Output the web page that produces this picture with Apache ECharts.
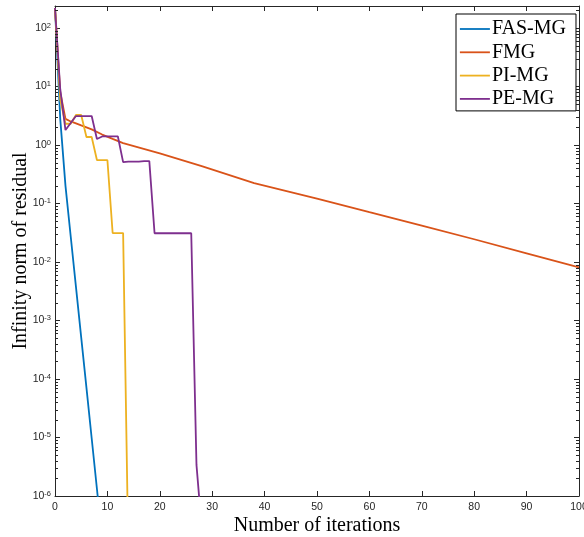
<!DOCTYPE html>
<html>
<head>
<meta charset="utf-8">
<script src="https://cdn.jsdelivr.net/npm/echarts@6/dist/echarts.min.js"></script>
<style>html,body{margin:0;padding:0;background:#fff;}#c{width:584px;height:537px;}</style>
</head>
<body>
<div id="c"></div>
<script>
// ---- data ----
const fasIter = [0, 1, 2, 3, 4, 5, 6, 7, 8, 9];
const fasVal  = [220, 2.8, 0.2, 0.0273, 0.00376, 5.15e-4, 7.1e-5, 9.7e-6, 1.33e-6, 1.8e-7];

const fmgIter = [0, 1, 2, 3, 4, 5, 7, 9, 11, 13, 20, 28, 38, 50, 60, 70, 80, 90, 100];
const fmgVal  = [220, 8, 2.8, 2.53, 2.34, 2.16, 1.85, 1.51, 1.27, 1.08, 0.72, 0.436, 0.223, 0.121, 0.071, 0.0417, 0.0245, 0.0141, 0.0081];

const piIter = [0, 1, 2, 3, 4, 5, 6, 7, 8, 9, 10, 11, 12, 13, 14];
const piVal  = [220, 6, 2.31, 2.31, 3.26, 3.26, 1.37, 1.37, 0.554, 0.554, 0.554, 0.0313, 0.0313, 0.0313, 1e-7];

const peIter = [0, 1, 2, 3, 4, 5, 6, 7, 8, 9, 10, 11, 12, 13, 14, 15, 16, 17, 18, 19, 20, 21, 22, 23, 24, 25, 26, 27, 28];
const peVal  = [220, 9, 1.8, 2.38, 3.13, 3.13, 3.13, 3.13, 1.27, 1.4, 1.4, 1.4, 1.4, 0.51, 0.52, 0.52, 0.52, 0.53, 0.53, 0.031, 0.031, 0.031, 0.031, 0.031, 0.031, 0.031, 0.031, 3.4e-6, 2.8e-7];

const seriesNames = ['FAS-MG', 'FMG', 'PI-MG', 'PE-MG'];
const xTicks = [0, 10, 20, 30, 40, 50, 60, 70, 80, 90, 100];
const yDecadeExponents = [-6, -5, -4, -3, -2, -1, 0, 1, 2];
const minorMultipliers = [2, 3, 4, 5, 6, 7, 8, 9];

// ---- layout / style ----
const Y_MIN = 1e-6, Y_MAX = 238;
const AX = '#262626';
const colors = ['#0072BD', '#D95319', '#EDB120', '#7E2F8E'];

function pairs(xs, ys) { return xs.map((x, i) => [x, ys[i]]); }

const minorTickData = [];
yDecadeExponents.forEach(e => minorMultipliers.forEach(m => {
  const v = m * Math.pow(10, e);
  if (v < Y_MAX) minorTickData.push([0, v]);
}));

function yLabel(value) {
  const lg = Math.log10(value);
  const e = Math.round(lg);
  if (Math.abs(lg - e) > 1e-6) return '';
  return '{b|10}{e|' + e + '}';
}

const chart = echarts.init(document.getElementById('c'), null, {renderer: 'canvas'});

const lineSeries = [[fasIter, fasVal], [fmgIter, fmgVal], [piIter, piVal], [peIter, peVal]].map((d, i) => ({
  name: seriesNames[i],
  type: 'line',
  xAxisIndex: 0,
  yAxisIndex: 0,
  data: pairs(d[0], d[1]),
  symbol: 'none',
  showSymbol: false,
  clip: true,
  animation: false,
  lineStyle: {color: colors[i], width: 1.8},
  itemStyle: {color: colors[i]},
  z: 3 + i
}));

const minorSeries = {
  type: 'custom',
  xAxisIndex: 0,
  yAxisIndex: 0,
  silent: true,
  animation: false,
  clip: false,
  z: 10,
  data: minorTickData,
  renderItem: function (params, api) {
    const y = Math.round(api.coord([0, api.value(1)])[1]) + 0.5;
    const cs = params.coordSys;
    const xl = cs.x, xr = cs.x + cs.width;
    return {
      type: 'group',
      children: [
        {type: 'line', shape: {x1: xl, y1: y, x2: xl + 3, y2: y}, style: {stroke: AX, lineWidth: 1}},
        {type: 'line', shape: {x1: xr, y1: y, x2: xr - 3, y2: y}, style: {stroke: AX, lineWidth: 1}}
      ]
    };
  }
};

const option = {
  backgroundColor: '#ffffff',
  animation: false,
  grid: {left: 55, right: 5, top: 6, bottom: 41, outerBoundsMode: 'none', containLabel: false},
  legend: {
    data: seriesNames,
    orient: 'vertical',
    left: 456,
    top: 14,
    width: 120,
    padding: [5, 10, 2, 3],
    itemGap: 3.3,
    itemWidth: 30,
    itemHeight: 14,
    itemStyle: {opacity: 0},
    lineStyle: {width: 1.8},
    borderColor: '#000',
    borderWidth: 1,
    borderRadius: 0,
    backgroundColor: '#fff',
    selectedMode: false,
    textStyle: {fontFamily: 'Liberation Serif', fontSize: 20, color: '#000', lineHeight: 20, padding: [0, 0, 0, -3]}
  },
  xAxis: [{
    type: 'value',
    position: 'bottom',
    min: 0, max: 100, interval: 10,
    name: 'Number of iterations',
    nameLocation: 'middle',
    nameGap: 20,
    nameMoveOverlap: false,
    nameTextStyle: {fontFamily: 'Liberation Serif', fontSize: 20, color: '#000'},
    axisLine: {show: true, onZero: false, lineStyle: {color: AX, width: 1}},
    axisTick: {show: true, inside: true, length: 5, lineStyle: {color: AX}},
    axisLabel: {show: true, margin: 6, fontFamily: 'Liberation Sans', fontSize: 10.5, color: AX, showMaxLabel: true, hideOverlap: false},
    splitLine: {show: false}
  }, {
    type: 'value',
    position: 'top',
    min: 0, max: 100, interval: 10,
    axisLine: {show: true, onZero: false, lineStyle: {color: AX, width: 1}},
    axisTick: {show: true, inside: true, length: 5, lineStyle: {color: AX}},
    axisLabel: {show: false},
    splitLine: {show: false}
  }],
  yAxis: [{
    type: 'log',
    logBase: 10,
    position: 'left',
    min: Y_MIN, max: Y_MAX,
    name: 'Infinity norm of residual',
    nameLocation: 'middle',
    nameGap: 24,
    nameMoveOverlap: false,
    nameRotate: 90,
    nameTextStyle: {fontFamily: 'Liberation Serif', fontSize: 20, color: '#000'},
    axisLine: {show: true, onZero: false, lineStyle: {color: AX, width: 1}},
    axisTick: {show: true, inside: true, length: 5, lineStyle: {color: AX}},
    axisLabel: {
      show: true, margin: 4, formatter: yLabel, showMaxLabel: false, hideOverlap: false,
      rich: {
        b: {fontFamily: 'Liberation Sans', fontSize: 10.5, color: AX, lineHeight: 13},
        e: {fontFamily: 'Liberation Sans', fontSize: 7.5, color: AX, verticalAlign: 'top', lineHeight: 8}
      }
    },
    splitLine: {show: false}
  }, {
    type: 'log',
    logBase: 10,
    position: 'right',
    min: Y_MIN, max: Y_MAX,
    axisLine: {show: true, onZero: false, lineStyle: {color: AX, width: 1}},
    axisTick: {show: true, inside: true, length: 5, lineStyle: {color: AX}},
    axisLabel: {show: false},
    splitLine: {show: false}
  }],
  series: lineSeries.concat([minorSeries])
};

chart.setOption(option);
</script>
</body>
</html>
